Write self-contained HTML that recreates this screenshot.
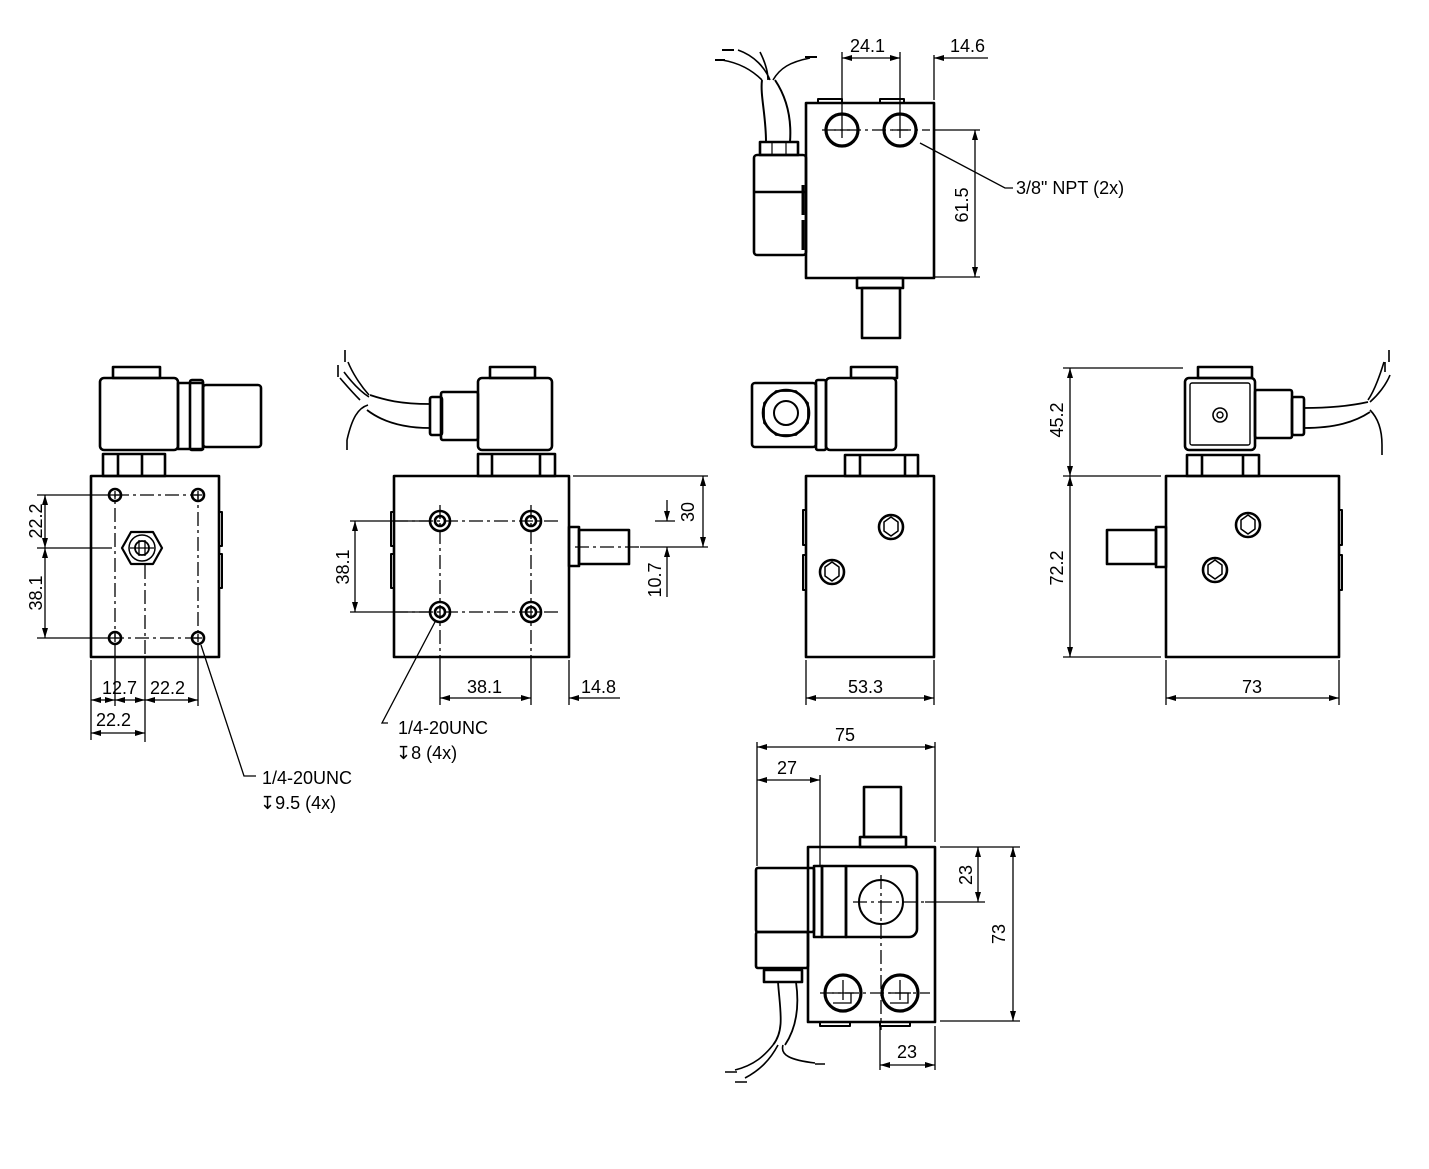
<!DOCTYPE html>
<html><head><meta charset="utf-8"><style>
html,body{margin:0;padding:0;background:#fff;}
svg{display:block;}
text{font-family:"Liberation Sans",sans-serif;font-size:18px;fill:#000;}
</style></head><body>
<svg width="1429" height="1169" viewBox="0 0 1429 1169" xmlns="http://www.w3.org/2000/svg">
<defs>
<marker id="a" viewBox="0 0 10 6" refX="10" refY="3" markerWidth="14" markerHeight="6" markerUnits="userSpaceOnUse" orient="auto-start-reverse"><path d="M0,0L10,3L0,6z" fill="#000"/></marker>
</defs>
<g fill="none" stroke="#000" stroke-width="2.6" stroke-linejoin="round">
<!-- ============ TOP VIEW ============ -->
<rect x="806" y="103" width="128" height="175"/>
<path d="M818,103v-4h24v4M880,103v-4h24v4" stroke-width="2"/>
<circle cx="842" cy="130" r="16" stroke-width="3.2"/><circle cx="900" cy="130" r="16" stroke-width="3.2"/>
<rect x="754" y="155" width="52" height="100" rx="3"/>
<line x1="754" y1="192" x2="806" y2="192"/>
<path d="M803,185v30M803,220v30" stroke-width="3"/>
<rect x="760" y="142" width="38" height="13"/>
<path d="M772,142v13M786,142v13" stroke-width="1.2"/>
<path d="M766,142C766,115 760,95 762,80M790,142C792,115 785,95 775,80" stroke-width="2"/>
<path d="M762,80C752,70 740,63 722,60M770,80C765,68 755,56 738,50M773,80C780,68 790,62 810,58M768,80C768,70 764,60 760,52" stroke-width="1.6"/>
<path d="M715,60h10M722,50h12M805,57h12" stroke-width="2"/>

<rect x="857" y="278" width="46" height="10"/>
<rect x="862" y="288" width="38" height="50"/>

<!-- ============ VIEW 1 (left) ============ -->
<rect x="91" y="476" width="128" height="181"/>
<path d="M219,512h3v34h-3M219,554h3v34h-3" stroke-width="2"/>
<rect x="113" y="367" width="47" height="11"/>
<rect x="100" y="378" width="78" height="72" rx="4"/>
<rect x="178" y="383" width="25" height="66"/>
<rect x="190" y="380" width="13" height="70" rx="2"/>
<rect x="203" y="385" width="58" height="62" rx="3"/>
<rect x="103" y="454" width="62" height="22"/>
<line x1="118" y1="454" x2="118" y2="476"/><line x1="142" y1="454" x2="142" y2="476"/>
<circle cx="115" cy="495" r="6"/><circle cx="198" cy="495" r="6"/>
<circle cx="115" cy="638" r="6"/><circle cx="198" cy="638" r="6"/>
<path d="M122,548l9,-16h22l9,16l-9,16h-22z" stroke-width="2.2"/>
<circle cx="142" cy="548" r="13" stroke-width="1.5"/>
<circle cx="142" cy="548" r="7" stroke-width="1.8"/>

<!-- ============ VIEW 2 ============ -->
<rect x="394" y="476" width="175" height="181"/>
<path d="M394,512h-3v34h3M394,554h-3v34h3" stroke-width="2"/>
<rect x="490" y="367" width="45" height="11"/>
<rect x="478" y="378" width="74" height="72" rx="4"/>
<rect x="441" y="392" width="37" height="48" rx="2"/>
<rect x="430" y="397" width="12" height="38" rx="2"/>
<path d="M430,404C400,404 385,400 370,395M430,428C400,428 380,420 367,410" stroke-width="1.8"/>
<path d="M369,395C360,385 352,372 348,362M369,397C358,390 350,380 344,372M368,405C358,408 352,418 347,440M360,400C352,392 346,385 340,378" stroke-width="1.6"/>
<path d="M345,350v12M338,365v12M347,440v10" stroke-width="1.6"/>
<rect x="478" y="454" width="77" height="22"/>
<line x1="492" y1="454" x2="492" y2="476"/><line x1="540" y1="454" x2="540" y2="476"/>
<circle cx="440" cy="521" r="10"/><circle cx="440" cy="521" r="5"/>
<circle cx="531" cy="521" r="10"/><circle cx="531" cy="521" r="5"/>
<circle cx="440" cy="612" r="10"/><circle cx="440" cy="612" r="5"/>
<circle cx="531" cy="612" r="10"/><circle cx="531" cy="612" r="5"/>
<rect x="569" y="527" width="10" height="39"/>
<rect x="579" y="530" width="50" height="34"/>

<!-- ============ VIEW 3 ============ -->
<rect x="806" y="476" width="128" height="181"/>
<path d="M806,510h-3v35h3M806,555h-3v35h3" stroke-width="2"/>
<rect x="851" y="367" width="46" height="11"/>
<rect x="826" y="378" width="70" height="72" rx="4"/>
<rect x="816" y="380" width="10" height="70" rx="2"/>
<rect x="752" y="383" width="64" height="64" rx="3"/>
<circle cx="786" cy="413" r="23"/>
<path d="M776,391h20l12,12v20l-12,12h-20l-12,-12v-20z" stroke-width="1.8"/>
<circle cx="786" cy="413" r="12" stroke-width="2"/>
<rect x="845" y="455" width="73" height="21"/>
<line x1="860" y1="455" x2="860" y2="476"/><line x1="905" y1="455" x2="905" y2="476"/>
<circle cx="891" cy="527" r="12"/><path d="M884,522l7,-5l7,5v9l-7,5l-7,-5z" stroke-width="1.5"/>
<circle cx="832" cy="572" r="12"/><path d="M825,567l7,-5l7,5v9l-7,5l-7,-5z" stroke-width="1.5"/>

<!-- ============ VIEW 4 ============ -->
<rect x="1166" y="476" width="173" height="181"/>
<path d="M1339,510h3v35h-3M1339,555h3v35h-3" stroke-width="2"/>
<rect x="1198" y="367" width="54" height="11"/>
<rect x="1185" y="378" width="70" height="72" rx="4"/>
<rect x="1190" y="383" width="60" height="62" rx="2" stroke-width="1.4"/>
<circle cx="1220" cy="415" r="7" stroke-width="1.6"/><circle cx="1220" cy="415" r="3" stroke-width="1.4"/>
<rect x="1255" y="390" width="37" height="48" rx="2"/>
<rect x="1292" y="397" width="12" height="38" rx="2"/>
<path d="M1304,408C1330,408 1350,406 1368,402M1304,428C1335,428 1355,422 1370,412" stroke-width="1.8"/>
<path d="M1368,400C1375,390 1380,375 1384,362M1370,402C1378,395 1386,385 1390,375M1370,410C1378,418 1382,430 1382,445" stroke-width="1.6"/>
<path d="M1389,350v12M1385,362v10M1382,445v10" stroke-width="1.6"/>
<rect x="1187" y="455" width="72" height="21"/>
<line x1="1202" y1="455" x2="1202" y2="476"/><line x1="1243" y1="455" x2="1243" y2="476"/>
<circle cx="1248" cy="525" r="12"/><path d="M1241,520l7,-5l7,5v9l-7,5l-7,-5z" stroke-width="1.5"/>
<circle cx="1215" cy="570" r="12"/><path d="M1208,565l7,-5l7,5v9l-7,5l-7,-5z" stroke-width="1.5"/>
<rect x="1156" y="527" width="10" height="40"/>
<rect x="1107" y="530" width="49" height="34"/>

<!-- ============ BOTTOM VIEW ============ -->
<rect x="808" y="847" width="127" height="175"/>
<path d="M820,1022v4h30v-4M880,1022v4h30v-4" stroke-width="2"/>
<rect x="860" y="837" width="46" height="10"/>
<rect x="864" y="787" width="37" height="50"/>
<rect x="814" y="866" width="8" height="71"/>
<rect x="822" y="866" width="24" height="71"/>
<path d="M846,866h63a8,8 0 0 1 8,8v55a8,8 0 0 1 -8,8h-63z"/>
<circle cx="881" cy="902" r="22" stroke-width="2"/>
<rect x="756" y="868" width="58" height="64" rx="2"/>
<rect x="756" y="932" width="52" height="36" rx="2"/>
<rect x="764" y="970" width="38" height="12"/>
<path d="M778,982C780,1010 785,1030 773,1045M796,982C800,1010 795,1030 785,1045" stroke-width="1.8"/>
<path d="M773,1045C765,1055 755,1065 735,1070M778,1045C770,1060 760,1070 745,1078M783,1045C780,1055 790,1060 815,1063" stroke-width="1.6"/>
<path d="M725,1072h12M735,1082h12M815,1064h10" stroke-width="1.6"/>
<circle cx="843" cy="993" r="18" stroke-width="3.2"/><circle cx="900" cy="993" r="18" stroke-width="3.2"/>
</g>

<!-- centre lines / dash-dot -->
<g fill="none" stroke="#000" stroke-width="1.3" stroke-dasharray="14,4,3,4">
<line x1="822" y1="130" x2="930" y2="130"/>
<rect x="115" y="495" width="83" height="143"/>
<line x1="145" y1="565" x2="145" y2="657"/>
<line x1="394" y1="521" x2="560" y2="521"/>
<line x1="394" y1="612" x2="560" y2="612"/>
<line x1="440" y1="505" x2="440" y2="657"/>
<line x1="531" y1="505" x2="531" y2="657"/>
<line x1="575" y1="547" x2="640" y2="547"/>
<line x1="853" y1="902" x2="925" y2="902"/>
<line x1="881" y1="875" x2="881" y2="1030"/>
<line x1="820" y1="993" x2="930" y2="993"/>
</g>
<g fill="none" stroke="#000" stroke-width="1.3">
<path d="M842,114v24M834,130h16M900,114v24M892,130h16"/>
<path d="M111,495h8M115,491v8M194,495h8M198,491v8M111,638h8M115,634v8M194,638h8M198,634v8"/>
<path d="M843,980v20M832,993h22M833,1003h18v-10M900,980v20M889,993h22M890,1003h18v-10"/>
<path d="M139,540v16M145,540v16M130,548h24"/>
</g>

<!-- dimension lines -->
<g fill="none" stroke="#000" stroke-width="1.3">
<path d="M842,52v62M900,52v62M934,55v45"/>
<line x1="842" y1="58" x2="900" y2="58" marker-start="url(#a)" marker-end="url(#a)"/>
<line x1="988" y1="58" x2="934" y2="58" marker-end="url(#a)"/>
<path d="M934,130h46M934,277h46"/>
<line x1="975" y1="130" x2="975" y2="277" marker-start="url(#a)" marker-end="url(#a)"/>
<path d="M920,143L1005,188h8"/>
<path d="M37,495h74M37,548h75M37,638h74"/>
<line x1="45" y1="495" x2="45" y2="548" marker-start="url(#a)" marker-end="url(#a)"/>
<line x1="45" y1="548" x2="45" y2="638" marker-start="url(#a)" marker-end="url(#a)"/>
<path d="M91,660v80M115,644v62M145,657v85M198,644v62"/>
<line x1="91" y1="700" x2="115" y2="700" marker-start="url(#a)" marker-end="url(#a)"/>
<line x1="115" y1="700" x2="145" y2="700" marker-start="url(#a)" marker-end="url(#a)"/>
<line x1="145" y1="700" x2="198" y2="700" marker-start="url(#a)" marker-end="url(#a)"/>
<line x1="91" y1="733" x2="145" y2="733" marker-start="url(#a)" marker-end="url(#a)"/>
<path d="M201,645L244,776h12"/>
<path d="M350,521h80M350,612h80"/>
<line x1="355" y1="521" x2="355" y2="612" marker-start="url(#a)" marker-end="url(#a)"/>
<path d="M573,476h135M640,547h68M655,521h20"/>
<line x1="703" y1="476" x2="703" y2="547" marker-start="url(#a)" marker-end="url(#a)"/>
<line x1="667" y1="500" x2="667" y2="521" marker-end="url(#a)"/>
<line x1="667" y1="597" x2="667" y2="547" marker-end="url(#a)"/>
<path d="M440,657v48M531,657v48M569,660v45"/>
<line x1="440" y1="698" x2="531" y2="698" marker-start="url(#a)" marker-end="url(#a)"/>
<line x1="620" y1="698" x2="569" y2="698" marker-end="url(#a)"/>
<path d="M436,620L382,723h6"/>
<path d="M806,660v45M934,660v45"/>
<line x1="806" y1="698" x2="934" y2="698" marker-start="url(#a)" marker-end="url(#a)"/>
<path d="M1063,368h120M1063,476h98M1063,657h98"/>
<line x1="1070" y1="368" x2="1070" y2="476" marker-start="url(#a)" marker-end="url(#a)"/>
<line x1="1070" y1="476" x2="1070" y2="657" marker-start="url(#a)" marker-end="url(#a)"/>
<path d="M1166,660v45M1339,660v45"/>
<line x1="1166" y1="698" x2="1339" y2="698" marker-start="url(#a)" marker-end="url(#a)"/>
<path d="M757,742v124M820,775v90M935,742v100"/>
<line x1="757" y1="747" x2="935" y2="747" marker-start="url(#a)" marker-end="url(#a)"/>
<line x1="757" y1="780" x2="820" y2="780" marker-start="url(#a)" marker-end="url(#a)"/>
<path d="M940,847h80M925,902h60M940,1021h80"/>
<line x1="978" y1="847" x2="978" y2="902" marker-start="url(#a)" marker-end="url(#a)"/>
<line x1="1013" y1="847" x2="1013" y2="1021" marker-start="url(#a)" marker-end="url(#a)"/>
<path d="M880,1026v44M935,1026v44"/>
<line x1="880" y1="1065" x2="935" y2="1065" marker-start="url(#a)" marker-end="url(#a)"/>
</g>

<!-- texts -->
<g>
<text x="850" y="52">24.1</text>
<text x="950" y="52">14.6</text>
<text x="1016" y="194">3/8" NPT (2x)</text>
<text transform="translate(968,205) rotate(-90)" text-anchor="middle">61.5</text>
<text transform="translate(42,521) rotate(-90)" text-anchor="middle">22.2</text>
<text transform="translate(42,593) rotate(-90)" text-anchor="middle">38.1</text>
<text x="102" y="694">12.7</text>
<text x="150" y="694">22.2</text>
<text x="96" y="726">22.2</text>
<text x="262" y="784">1/4-20UNC</text>
<text x="260" y="809">↧9.5 (4x)</text>
<text transform="translate(349,567) rotate(-90)" text-anchor="middle">38.1</text>
<text transform="translate(694,512) rotate(-90)" text-anchor="middle">30</text>
<text transform="translate(661,580) rotate(-90)" text-anchor="middle">10.7</text>
<text x="467" y="693">38.1</text>
<text x="581" y="693">14.8</text>
<text x="398" y="734">1/4-20UNC</text>
<text x="396" y="759">↧8 (4x)</text>
<text x="848" y="693">53.3</text>
<text transform="translate(1063,420) rotate(-90)" text-anchor="middle">45.2</text>
<text transform="translate(1063,568) rotate(-90)" text-anchor="middle">72.2</text>
<text x="1242" y="693">73</text>
<text x="835" y="741">75</text>
<text x="777" y="774">27</text>
<text transform="translate(972,875) rotate(-90)" text-anchor="middle">23</text>
<text transform="translate(1005,934) rotate(-90)" text-anchor="middle">73</text>
<text x="897" y="1058">23</text>
</g>
</svg>
</body></html>
